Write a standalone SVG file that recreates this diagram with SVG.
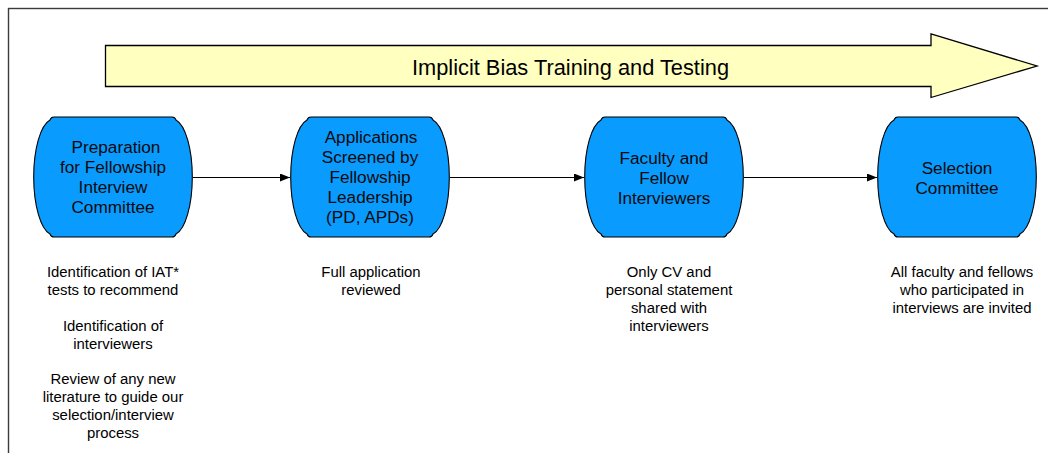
<svg xmlns="http://www.w3.org/2000/svg" xmlns:xlink="http://www.w3.org/1999/xlink" width="1048" height="453" viewBox="0 0 1048 453">
  <style>
    .frame { fill: #ffffff; stroke: #3a3a3a; stroke-width: 1.4; }
    .banner { fill: #ffffc0; stroke: #000000; stroke-width: 1.3; stroke-linejoin: miter; }
    .banner-text { font-family: "Liberation Sans", Arial, sans-serif; font-size: 21.8px; fill: #000000; text-anchor: middle; }
    .node-shape { fill: #0a9bff; stroke: #000000; stroke-width: 1.1; }
    .node-text { font-family: "Liberation Sans", Arial, sans-serif; font-size: 17.2px; fill: #0a0a0a; text-anchor: middle; }
    .note { font-family: "Liberation Sans", Arial, sans-serif; font-size: 14.9px; fill: #000000; text-anchor: middle; }
    .connector { fill: none; stroke: #000000; stroke-width: 1; }
  </style>
  <defs>
    <!-- barrel-shaped process box, 160 x 120, elliptical left/right sides -->
    <path id="barrel" d="M 21,0 H 139 Q 142,0 143,3 A 20 58 0 0 1 143,117 Q 142,120 139,120 H 21 Q 18,120 17,117 A 20 58 0 0 1 17,3 Q 18,0 21,0 Z"/>
    <marker id="arrow" viewBox="0 0 10 8" refX="10" refY="4" markerWidth="10" markerHeight="8" markerUnits="userSpaceOnUse" orient="auto">
      <path d="M 0,0 L 10,4 L 0,8 Z" fill="#000000"/>
    </marker>
  </defs>

  <!-- outer frame -->
  <rect class="frame" x="8.5" y="8.5" width="1100" height="500"/>

  <!-- overarching banner arrow -->
  <g id="banner">
    <polygon class="banner" points="105.5,45.5 931,45.5 931,34 1037,66 931,97.5 931,86.5 105.5,86.5"/>
    <text class="banner-text" x="570.5" y="74.5">Implicit Bias Training and Testing</text>
  </g>

  <!-- connectors between process steps -->
  <g id="connectors">
    <line class="connector" x1="193" y1="177.5" x2="290" y2="177.5" marker-end="url(#arrow)"/>
    <line class="connector" x1="450" y1="177.5" x2="584" y2="177.5" marker-end="url(#arrow)"/>
    <line class="connector" x1="744" y1="177.5" x2="877" y2="177.5" marker-end="url(#arrow)"/>
  </g>

  <g id="node-preparation">
    <use xlink:href="#barrel" class="node-shape" transform="translate(33,117)"/>
    <text class="node-text" x="116" y="153">Preparation</text>
    <text class="node-text" x="113" y="173">for Fellowship</text>
    <text class="node-text" x="113" y="193">Interview</text>
    <text class="node-text" x="113" y="213">Committee</text>
  </g>

  <g id="node-screening">
    <use xlink:href="#barrel" class="node-shape" transform="translate(290,117)"/>
    <text class="node-text" x="371" y="143">Applications</text>
    <text class="node-text" x="370" y="163">Screened by</text>
    <text class="node-text" x="370" y="183">Fellowship</text>
    <text class="node-text" x="370" y="203">Leadership</text>
    <text class="node-text" x="370" y="223">(PD, APDs)</text>
  </g>

  <g id="node-interviewers">
    <use xlink:href="#barrel" class="node-shape" transform="translate(584,117)"/>
    <text class="node-text" x="664" y="163.5">Faculty and</text>
    <text class="node-text" x="664" y="183.5">Fellow</text>
    <text class="node-text" x="664" y="203.5">Interviewers</text>
  </g>

  <g id="node-selection">
    <use xlink:href="#barrel" class="node-shape" transform="translate(877,117)"/>
    <text class="node-text" x="957" y="173.5">Selection</text>
    <text class="node-text" x="957" y="193.5">Committee</text>
  </g>

  <!-- notes under each step -->
  <g id="notes-preparation">
    <text class="note" x="113" y="277">Identification of IAT*</text>
    <text class="note" x="113" y="295">tests to recommend</text>
    <text class="note" x="113" y="331">Identification of</text>
    <text class="note" x="113" y="349">interviewers</text>
    <text class="note" x="113" y="384">Review of any new</text>
    <text class="note" x="113" y="402">literature to guide our</text>
    <text class="note" x="113" y="420">selection/interview</text>
    <text class="note" x="113" y="438">process</text>
  </g>

  <g id="notes-screening">
    <text class="note" x="371" y="277">Full application</text>
    <text class="note" x="371" y="295">reviewed</text>
  </g>

  <g id="notes-interviewers">
    <text class="note" x="669" y="277">Only CV and</text>
    <text class="note" x="669" y="295">personal statement</text>
    <text class="note" x="669" y="313">shared with</text>
    <text class="note" x="669" y="331">interviewers</text>
  </g>

  <g id="notes-selection">
    <text class="note" x="962" y="277">All faculty and fellows</text>
    <text class="note" x="962" y="295">who participated in</text>
    <text class="note" x="962" y="313">interviews are invited</text>
  </g>
</svg>
